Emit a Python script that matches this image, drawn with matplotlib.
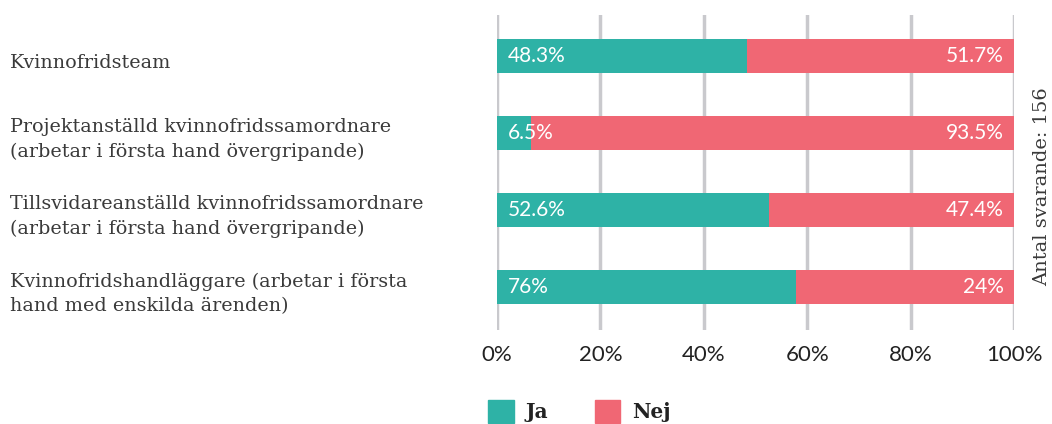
import matplotlib
matplotlib.use("Agg")
import matplotlib.pyplot as plt
from matplotlib.patches import Patch

# Data
categories = [
    "Kvinnofridsteam",
    "Projektanställd kvinnofridssamordnare\n(arbetar i första hand övergripande)",
    "Tillsvidareanställd kvinnofridssamordnare\n(arbetar i första hand övergripande)",
    "Kvinnofridshandläggare (arbetar i första\nhand med enskilda ärenden)",
]
ja_bar = [48.3, 6.5, 52.6, 57.8]        # drawn length of the teal segment
ja_labels = ["48.3%", "6.5%", "52.6%", "76%"]
nej_labels = ["51.7%", "93.5%", "47.4%", "24%"]
ticks = [0, 20, 40, 60, 80, 100]
tick_labels = ["0%", "20%", "40%", "60%", "80%", "100%"]

teal = "#2EB2A6"
red = "#F06774"
grid = "#C9C9CD"
text_col = "#3a3a3a"

fig = plt.figure(figsize=(10.52, 4.24), dpi=100)
ax = fig.add_axes([0.4724, 0.2217, 0.4915, 0.7429])

y = list(range(len(categories)))
nej_bar = [100 - v for v in ja_bar]
ax.barh(y, ja_bar, height=0.44, color=teal, zorder=3)
ax.barh(y, nej_bar, left=ja_bar, height=0.44, color=red, zorder=3)

for i in y:
    ax.annotate(ja_labels[i], (0, i), xytext=(7.5, 0), textcoords="offset points",
                ha="left", va="center", color="white", fontsize=15,
                family="Lato", zorder=4)
    ax.annotate(nej_labels[i], (100, i), xytext=(-7.5, 0), textcoords="offset points",
                ha="right", va="center", color="white", fontsize=15,
                family="Lato", zorder=4)
    ax.annotate(categories[i], (0, i), xycoords=("figure fraction", "data"),
                xytext=(7, -5), textcoords="offset points",
                ha="left", va="center", color=text_col, fontsize=13.8,
                family="DejaVu Serif", linespacing=1.45)

ax.set_xlim(0, 100)
ax.set_ylim(3.56, -0.53)
ax.set_xticks(ticks)
ax.set_xticklabels(tick_labels, family="Lato", fontsize=16, color="#222222")
ax.set_yticks([])
ax.tick_params(axis="x", length=0, pad=11)
ax.grid(axis="x", color=grid, linewidth=2.5, zorder=0)
for s in ax.spines.values():
    s.set_visible(False)

fig.text(0.991, 0.56, "Antal svarande: 156", rotation=90, ha="center", va="center",
         fontsize=14, family="DejaVu Serif", color=text_col)

handles = [Patch(color=teal, label="Ja"), Patch(color=red, label="Nej")]
leg = fig.legend(handles=handles, loc="center left", bbox_to_anchor=(0.447, 0.03),
                 ncol=2, frameon=False, handlelength=1.25, handleheight=1.4,
                 columnspacing=2.3, handletextpad=0.6,
                 prop={"family": "DejaVu Serif", "weight": "bold", "size": 14.5})
for t in leg.get_texts():
    t.set_color("#222222")

fig.savefig("out.png", dpi=100)
